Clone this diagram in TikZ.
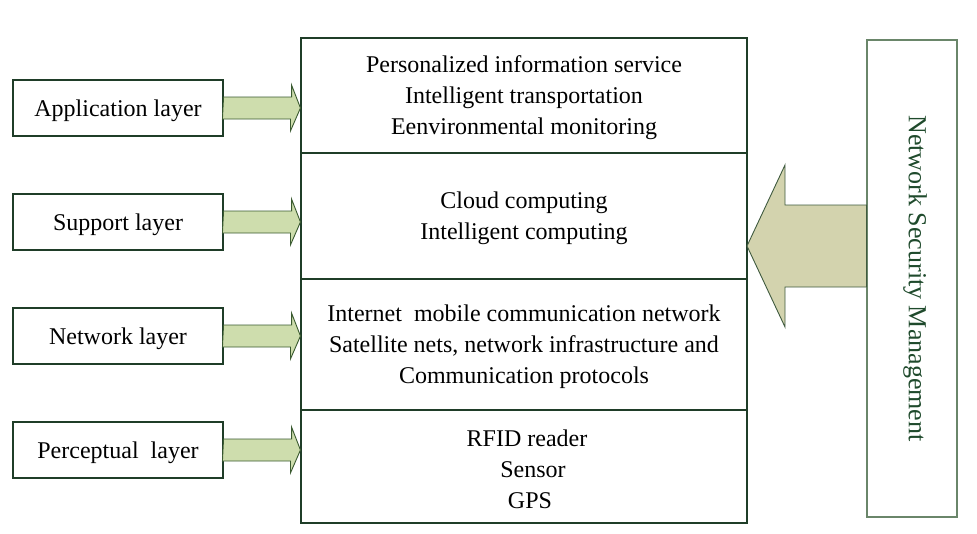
\documentclass[tikz,border=0pt]{standalone}
\usepackage{fontspec}
\setmainfont{Liberation Serif}
\usetikzlibrary{calc}
\definecolor{boxline}{HTML}{1F3D28}
\definecolor{nsmline}{HTML}{6A866A}
\definecolor{garrowfill}{HTML}{CEDDAD}
\definecolor{garrowline}{HTML}{3A5A30}
\definecolor{barrowfill}{HTML}{D3D3AE}
\definecolor{barrowline}{HTML}{3F5A3F}
\definecolor{nsmtext}{HTML}{1F4A2C}
\tikzset{
  layerbox/.style={draw=boxline, line width=1.1pt, fill=white, minimum width=210pt, minimum height=56pt, inner sep=0pt},
  stackbox/.style={draw=boxline, line width=1.1pt, minimum width=446pt, inner sep=0pt},
  txt/.style={inner sep=0pt, align=center, yshift=-2.5pt, font=\fontsize{24}{31}\selectfont},
  garrow/.style={draw=garrowline, fill=garrowfill, line width=0.9pt, line join=miter},
  barrow/.style={draw=barrowline, fill=barrowfill, line width=0.9pt, line join=miter},
}
\begin{document}
\begin{tikzpicture}[x=1pt,y=-1pt]
\useasboundingbox (0,0) rectangle (977,533);
% central stack
\node[stackbox, minimum height=115pt] (s1) at (524,95.5) {};
\node[stackbox, minimum height=126pt] (s2) at (524,216) {};
\node[stackbox, minimum height=131pt] (s3) at (524,344.5) {};
\node[stackbox, minimum height=113pt] (s4) at (524,466.5) {};
\node[txt] (t1) at (s1.center) {Personalized information service\\Intelligent transportation\\Eenvironmental monitoring};
\node[txt] (t2) at (s2.center) {Cloud computing\\Intelligent computing};
\node[txt] (t3) at (s3.center) {Internet\ \ mobile communication network\\Satellite nets, network infrastructure and\\Communication protocols};
\node[txt, xshift=3pt] (t4) at (s4.center) {RFID reader\\\hspace*{12pt}Sensor\\\hspace*{6pt}GPS};
% left layer boxes
\node[layerbox] (l1) at (118,108) {};
\node[layerbox] (l2) at (118,222) {};
\node[layerbox] (l3) at (118,336) {};
\node[layerbox] (l4) at (118,450) {};
\node[txt] (lt1) at (l1.center) {Application layer};
\node[txt] (lt2) at (l2.center) {Support layer};
\node[txt] (lt3) at (l3.center) {Network layer};
\node[txt] (lt4) at (l4.center) {Perceptual\ \ layer};
% green arrows
\foreach \n/\t in {l1/s1,l2/s2,l3/s3,l4/s4}{
  \draw[garrow] (\n.east) ++(0,-11) -- ++(68,0) -- ++(0,-12) -- (\n.east -| \t.west) -- ++(-10,23) -- ++(0,-12) -- ++(-68,0) -- cycle;
}
% network security management box
\node[draw=nsmline, line width=1.1pt, minimum width=90pt, minimum height=477pt, inner sep=0pt] (nsm) at (912,278.5) {};
\node[rotate=-90, text=nsmtext, font=\fontsize{26}{31}\selectfont, inner sep=0pt] (nsmt) at (915,278.5) {Network Security Management};
% big arrow
\coordinate (tip) at (747,246);
\draw[barrow] (nsm.west |- 0,205) -- (785,205) -- (785,165) -- (tip) -- (785,327) -- (785,287) -- (nsm.west |- 0,287) -- cycle;
\end{tikzpicture}
\end{document}
